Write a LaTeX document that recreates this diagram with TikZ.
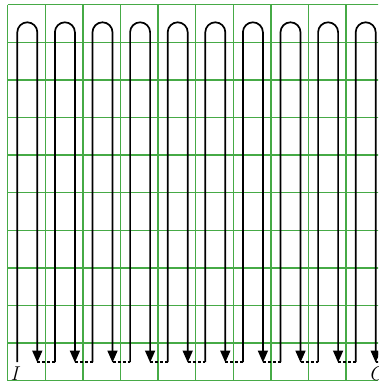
\documentclass[tikz,border=0pt]{standalone}
\usepackage{fontspec}
\usetikzlibrary{arrows.meta}
\definecolor{gridgreen}{RGB}{70,170,70}
\begin{document}
\begin{tikzpicture}[x=1pt,y=-1pt,
  gridline/.style={draw=gridgreen,line width=1.5pt},
  looppath/.style={draw=black,line width=1.7pt,-{Triangle[width=10pt,length=12pt]}},
  joinpath/.style={draw=black,line width=1.3pt,dash pattern=on 3pt off 2pt},
  lbl/.style={font=\fontsize{20}{20}\selectfont\itshape,inner sep=0pt,anchor=base}]
\useasboundingbox (0,0) rectangle (378,383);
\begin{scope}
\clip (0,0) rectangle (378,383);
\foreach \j in {0,...,10}{
  \draw[gridline] (7.7,{4.7+37.6*\j}) -- (390,{4.7+37.6*\j});
}
\foreach \i in {0,...,10}{
  \draw[gridline] ({7.7+37.6*\i},4.7) -- ({7.7+37.6*\i},380.7);
}
\foreach \k in {0,...,9}{
  \coordinate (L\k) at ({17.3+37.6*\k},362);
  \coordinate (R\k) at ({37.3+37.6*\k},362);
  \coordinate (N\k) at ({17.3+37.6*(\k+1)},362);
  \draw[joinpath] (R\k) -- (N\k);
  \draw[looppath] (L\k) -- ++(0,-329.7) arc[start angle=180,end angle=360,radius=10] -- ([yshift=-0.5pt]R\k);
}
\node[lbl] (I) at (14.3,380) {I};
\node[lbl] (C) at (375.5,380.5) {C};
\end{scope}
\end{tikzpicture}
\end{document}
